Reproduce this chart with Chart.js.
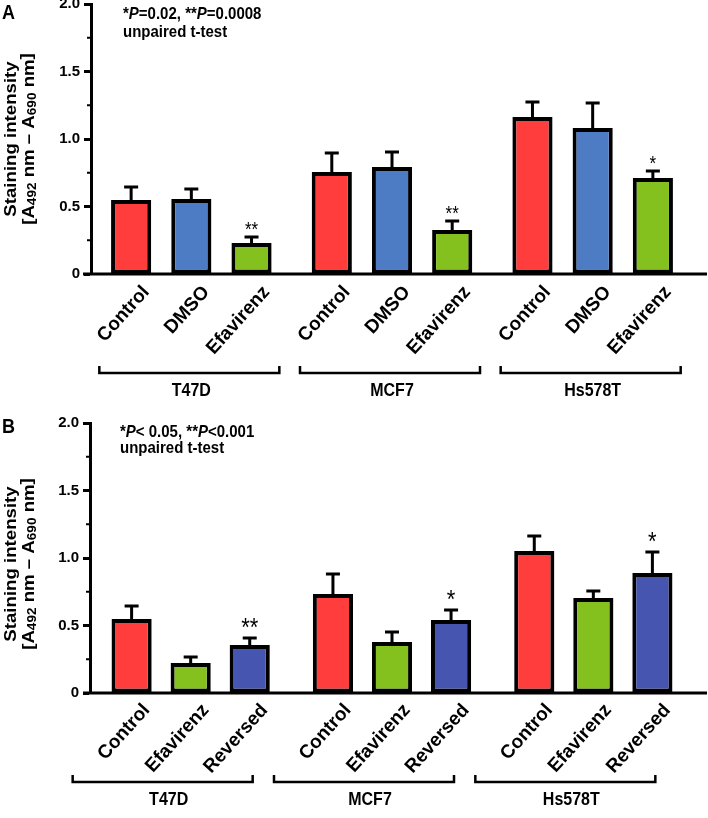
<!DOCTYPE html>
<html>
<head>
<meta charset="utf-8">
<script src="https://cdn.jsdelivr.net/npm/chart.js@4.4.1/dist/chart.umd.min.js"></script>
<style>
  body { margin: 0; background: #fff; width: 708px; height: 818px; position: relative; overflow: hidden; }
  canvas { position: absolute; left: 0; }
  #chartA { top: 0; }
  #chartB { top: 409px; }
</style>
</head>
<body>
<canvas id="chartA" width="708" height="409"></canvas>
<canvas id="chartB" width="708" height="409"></canvas>
<script>
// cell lines and y axis
const cellLines = ['T47D', 'MCF7', 'Hs578T'];
const yTickLabels = ['0', '0.5', '1.0', '1.5', '2.0'];
const minorTicks = [0.25, 0.75, 1.25, 1.75];

// panel A
const treatmentsA = ['Control', 'DMSO', 'Efavirenz'];
const controlA = [0.548, 0.756, 1.163];
const controlErrA = [0.096, 0.14, 0.111];
const dmsoA = [0.556, 0.793, 1.081];
const dmsoErrA = [0.074, 0.111, 0.186];
const efavA = [0.23, 0.326, 0.711];
const efavErrA = [0.044, 0.067, 0.052];
const efavStarsA = ['**', '**', '*'];

// panel B
const treatmentsB = ['Control', 'Efavirenz', 'Reversed'];
const controlB = [0.548, 0.733, 1.052];
const controlErrB = [0.096, 0.148, 0.111];
const efavB = [0.222, 0.378, 0.704];
const efavErrB = [0.045, 0.074, 0.052];
const reversedB = [0.356, 0.541, 0.889];
const reversedErrB = [0.051, 0.074, 0.155];
const reversedStarsB = ['**', '*', '*'];

const RED = '#ff3d3d', BLUE = '#4d7cc4', GREEN = '#84c11f', NAVY = '#4656b0';
const FONT = '"Liberation Sans", Arial, sans-serif';
const STRETCH = 1.15;

function stretched(ctx, x, y, fn) {
  ctx.save();
  ctx.translate(x, y);
  ctx.scale(1, STRETCH);
  fn(ctx);
  ctx.restore();
}

function rich(ctx, parts, size, x) {
  parts.forEach(p => {
    ctx.font = (p[1] ? 'italic bold ' : 'bold ') + size + 'px ' + FONT;
    ctx.fillText(p[0], x, 0);
    x += ctx.measureText(p[0]).width;
  });
}

function makePanel(id, o) {
  const deco = {
    id: 'deco',
    afterDraw(chart) {
      const ctx = chart.ctx;
      const area = chart.chartArea;
      const ys = chart.scales.y, xs = chart.scales.x;
      ctx.save();
      ctx.fillStyle = '#000';
      ctx.strokeStyle = '#000';

      // baseline
      ctx.lineWidth = 3;
      ctx.beginPath();
      ctx.moveTo(83, area.bottom);
      ctx.lineTo(707, area.bottom);
      ctx.stroke();

      // minor ticks
      ctx.lineWidth = 2;
      minorTicks.forEach(v => {
        const y = ys.getPixelForValue(v);
        ctx.beginPath();
        ctx.moveTo(area.left - 4, y);
        ctx.lineTo(area.left, y);
        ctx.stroke();
      });

      // error bars, stars, rotated labels
      chart.data.datasets.forEach((ds, i) => {
        chart.getDatasetMeta(i).data.forEach((el, j) => {
          const top = ys.getPixelForValue(ds.data[j] + ds.errors[j]);
          ctx.lineWidth = 3;
          ctx.beginPath();
          ctx.moveTo(el.x, el.y);
          ctx.lineTo(el.x, top);
          ctx.moveTo(el.x - 7, top);
          ctx.lineTo(el.x + 7, top);
          ctx.stroke();
          if (ds.stars && ds.stars[j]) {
            stretched(ctx, el.x, top - o.starGap + 0.58 * o.starSize * STRETCH, c => {
              c.font = o.starSize + 'px ' + FONT;
              c.textAlign = 'center';
              c.textBaseline = 'alphabetic';
              c.fillText(ds.stars[j], 0, 0);
            });
          }
          ctx.save();
          ctx.translate(el.x + o.labelDx, area.bottom + o.labelDy);
          ctx.rotate(-48 * Math.PI / 180);
          ctx.font = 'bold 19px ' + FONT;
          ctx.textAlign = 'right';
          ctx.textBaseline = 'middle';
          ctx.fillText(ds.label, 0, 0);
          ctx.restore();
        });
      });

      // group brackets
      cellLines.forEach((name, j) => {
        const cx = xs.getPixelForValue(j) + o.bracketShift;
        ctx.lineWidth = 2.5;
        ctx.beginPath();
        ctx.moveTo(cx - 90, o.bracketY - 7);
        ctx.lineTo(cx - 90, o.bracketY);
        ctx.lineTo(cx + 90, o.bracketY);
        ctx.lineTo(cx + 90, o.bracketY - 7);
        ctx.stroke();
        stretched(ctx, cx + o.groupShift, o.groupY, c => {
          c.font = 'bold 16px ' + FONT;
          c.textAlign = 'center';
          c.textBaseline = 'alphabetic';
          c.fillText(name, 0, 0);
        });
      });

      // panel letter and note
      stretched(ctx, 2, o.letterY, c => {
        c.font = 'bold 18px ' + FONT;
        c.textAlign = 'left';
        c.fillText(o.letter, 0, 0);
      });
      stretched(ctx, 0, o.noteY, c => { c.textAlign = 'left'; rich(c, o.note, 15, o.noteX); });
      stretched(ctx, 0, o.noteY + o.noteGap, c => { rich(c, [['unpaired t-test', false]], 15, o.noteX); });

      // y axis title
      ctx.save();
      ctx.translate(0, o.titleY);
      ctx.scale(1, 1.13);
      ctx.rotate(-Math.PI / 2);
      ctx.textBaseline = 'middle';
      ctx.textAlign = 'left';
      ctx.font = 'bold 16.5px ' + FONT;
      let w = ctx.measureText('Staining intensity').width;
      ctx.fillText('Staining intensity', -w / 2, 11);
      const parts = [['[A', 16.5, 0], ['492', 12, 4], [' nm – A', 16.5, 0], ['690', 12, 4], [' nm', 16.5, 0], [']', 16.5, -2]];
      w = 0;
      parts.forEach(p => { ctx.font = 'bold ' + p[1] + 'px ' + FONT; w += ctx.measureText(p[0]).width; });
      let x = -w / 2;
      parts.forEach(p => {
        ctx.font = 'bold ' + p[1] + 'px ' + FONT;
        ctx.fillText(p[0], x, 29 + p[2]);
        x += ctx.measureText(p[0]).width;
      });
      ctx.restore();

      ctx.restore();
    }
  };

  return new Chart(document.getElementById(id), {
    type: 'bar',
    data: {
      labels: cellLines,
      datasets: o.series.map(s => ({
        label: s[0],
        data: s[1],
        errors: s[2],
        stars: s[4],
        backgroundColor: s[3],
        borderColor: '#000',
        borderWidth: 4,
        borderSkipped: false,
        categoryPercentage: o.catPct,
        barPercentage: o.barPct
      }))
    },
    options: {
      responsive: false,
      animation: false,
      devicePixelRatio: 1,
      layout: { padding: o.padding },
      plugins: { legend: { display: false }, tooltip: { enabled: false } },
      scales: {
        x: { display: false },
        y: {
          min: 0,
          max: 2,
          afterFit(scale) { scale.width = o.axisLeft; scale.paddingTop = 0; scale.paddingBottom = 0; },
          ticks: {
            stepSize: 0.5,
            color: '#000',
            padding: 4,
            font: { family: FONT, size: 15, weight: 'bold' },
            callback: (v, i) => yTickLabels[i]
          },
          grid: { drawOnChartArea: false, tickLength: 7, tickWidth: 3, tickColor: '#000' },
          border: { display: true, color: '#000', width: 3 }
        }
      }
    },
    plugins: [deco]
  });
}

makePanel('chartA', {
  letter: 'A',
  letterY: 19,
  note: [['*', false], ['P', true], ['=0.02, **', false], ['P', true], ['=0.0008', false]],
  noteX: 123, noteY: 19, noteGap: 18,
  series: [
    [treatmentsA[0], controlA, controlErrA, RED, null],
    [treatmentsA[1], dmsoA, dmsoErrA, BLUE, null],
    [treatmentsA[2], efavA, efavErrA, GREEN, efavStarsA]
  ],
  padding: { left: 0, right: 15, top: 4, bottom: 135 },
  axisLeft: 91,
  catPct: 0.9, barPct: 0.667,
  starGap: 12, starSize: 17,
  labelDx: 15, labelDy: 15,
  bracketShift: -2, groupShift: 2, bracketY: 373, groupY: 396,
  titleY: 139
});

makePanel('chartB', {
  letter: 'B',
  letterY: 24,
  note: [['*', false], ['P', true], ['< 0.05, **', false], ['P', true], ['<0.001', false]],
  noteX: 120, noteY: 28, noteGap: 16,
  series: [
    [treatmentsB[0], controlB, controlErrB, RED, null],
    [treatmentsB[1], efavB, efavErrB, GREEN, null],
    [treatmentsB[2], reversedB, reversedErrB, NAVY, reversedStarsB]
  ],
  padding: { left: 0, right: 14, top: 14, bottom: 125 },
  axisLeft: 90,
  catPct: 0.88, barPct: 0.68,
  starGap: 17, starSize: 22,
  labelDx: 15, labelDy: 14,
  bracketShift: -28, groupShift: 6, bracketY: 373, groupY: 396,
  titleY: 155
});
</script>
</body>
</html>
